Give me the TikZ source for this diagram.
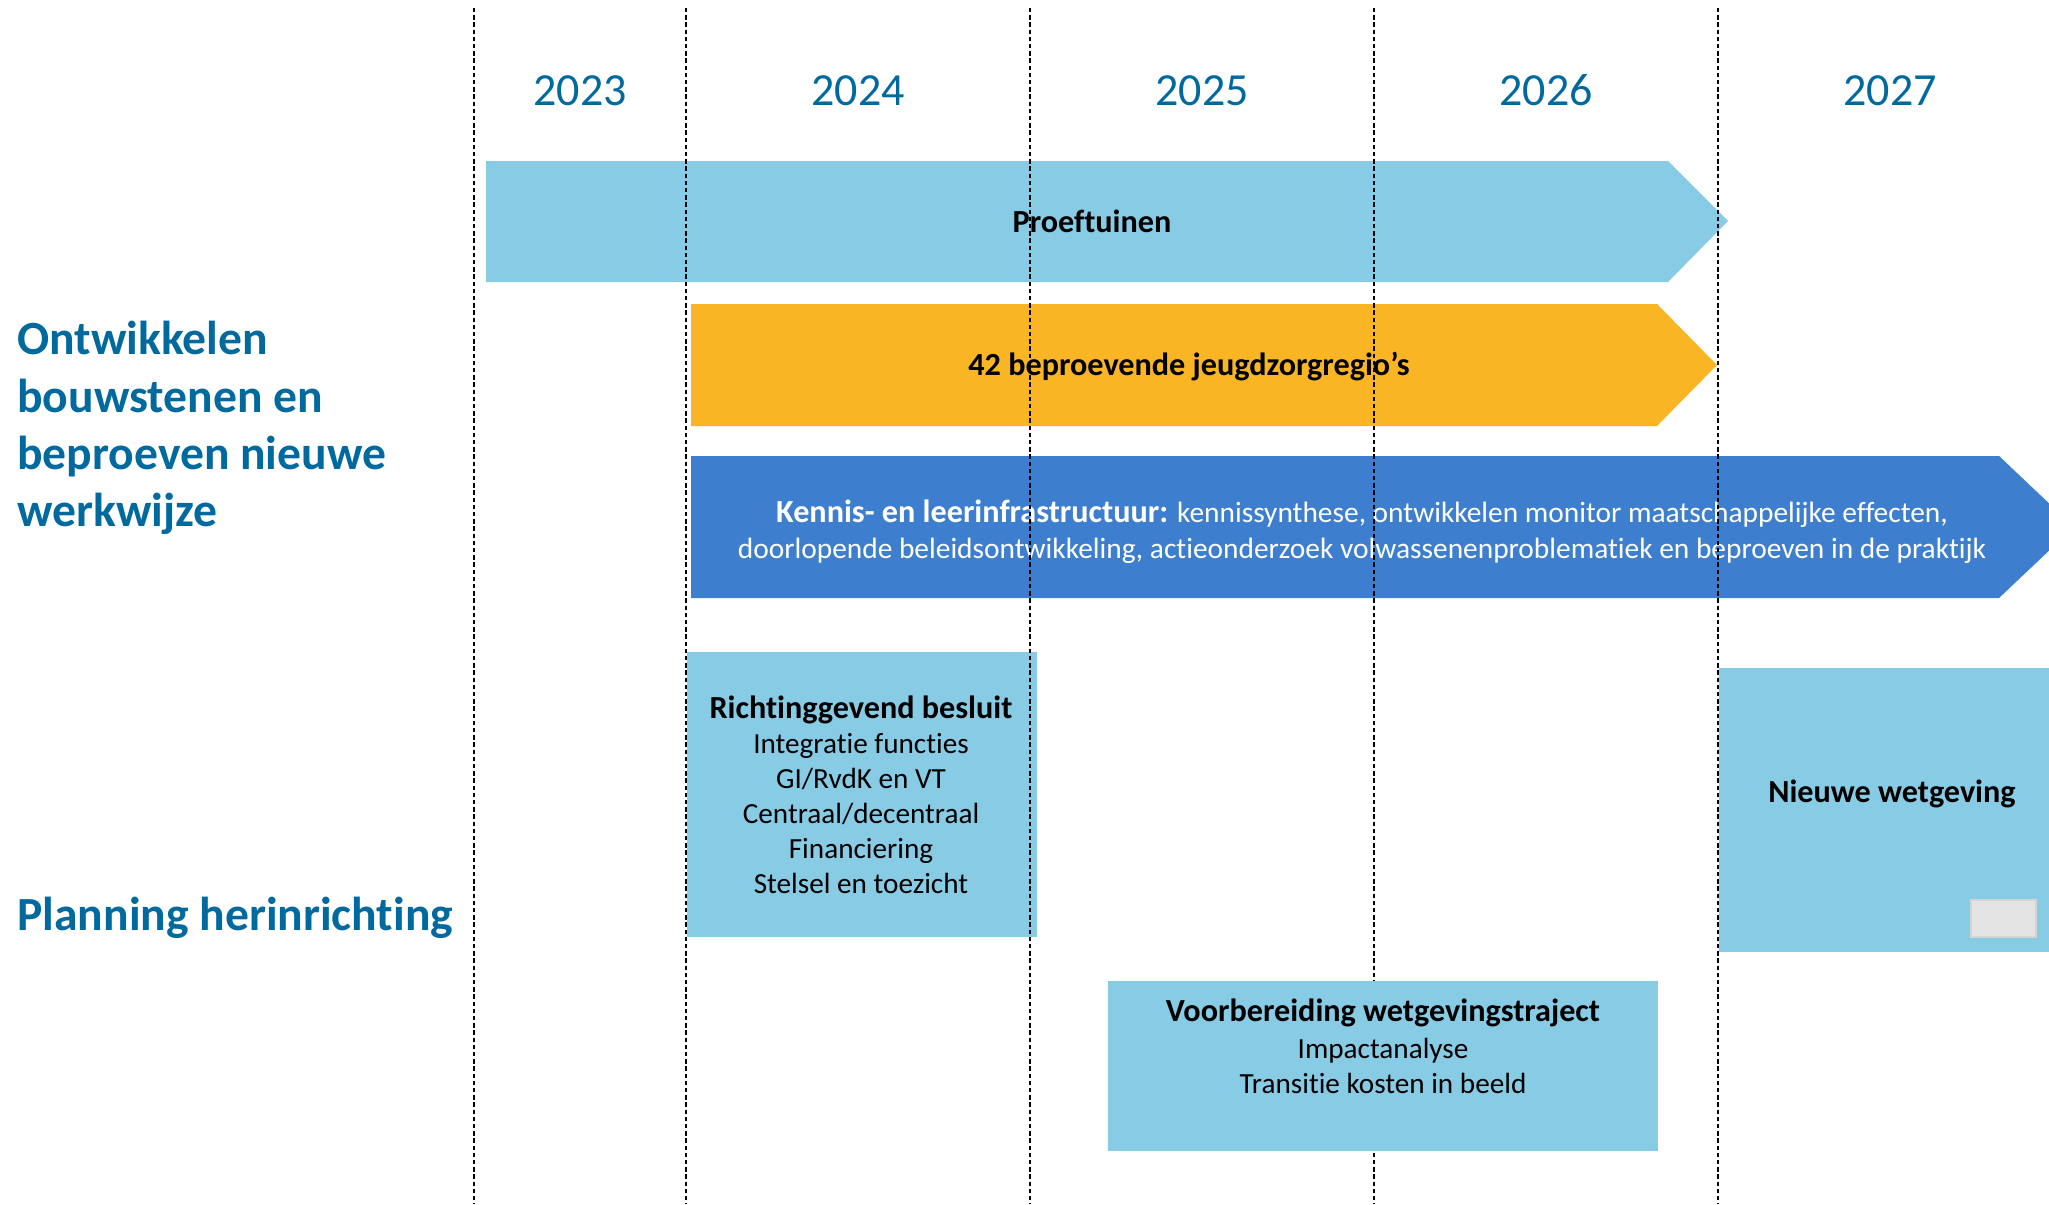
\documentclass[tikz,border=0pt]{standalone}
\usepackage{fontspec}
\setmainfont{Carlito}[Ligatures=NoCommon]
\definecolor{yearblue}{RGB}{0,105,157}
\definecolor{lightblue}{RGB}{136,203,229}
\definecolor{barorange}{RGB}{249,181,35}
\definecolor{bardark}{RGB}{61,127,206}
\definecolor{smallgray}{RGB}{228,228,228}
\definecolor{smallgrayline}{RGB}{212,212,212}
\tikzset{
  yearlbl/.style={font=\fontsize{23}{27}\selectfont, text=yearblue, inner sep=0pt},
  sidelbl/.style={font=\fontsize{23.8}{28.6}\selectfont\bfseries, text=yearblue, align=left, inner sep=0pt},
  bartxt/.style={font=\fontsize{16.1}{18}\selectfont\bfseries, inner sep=0pt},
  kentxt/.style={font=\fontsize{14.7}{18}\selectfont, text=white, align=center, inner sep=0pt},
  boxtxt/.style={font=\fontsize{14.6}{17.5}\selectfont, align=center, inner sep=0pt},
  yearline/.style={draw=black, line width=0.9pt, dash pattern=on 2.2pt off 1.4pt},
  panel/.style={fill=lightblue},
}
\newcommand{\boxhead}[1]{{\fontsize{16.1}{17.5}\selectfont\bfseries #1}}
\begin{document}
\begin{tikzpicture}[x=0.5pt,y=-0.5pt]
\useasboundingbox (0,0) rectangle (2049,1204);
\begin{scope}
\clip (0,0) rectangle (2049,1204);
% bars
\fill[lightblue] (486,161) -- (1668,161) -- (1728,221) -- (1668,282) -- (486,282) -- cycle;
\fill[barorange] (691,304) -- (1657,304) -- (1717,365) -- (1657,426) -- (691,426) -- cycle;
\fill[bardark] (691,456) -- (1999,456) -- (2074,527) -- (1999,598) -- (691,598) -- cycle;
% panels
\fill[panel] (687,652) rectangle (1037,937);
\fill[panel] (1719,668) rectangle (2049,952);
\filldraw[fill=smallgray, draw=smallgrayline, line width=0.6pt] (1971,900) rectangle (2036,937);
\end{scope}
% texts on bars and panels
\node[bartxt, anchor=base] (proef) at (1092,232) {Proeftuinen};
\node[bartxt, anchor=base] (regio) at (1189,375) {42 beproevende jeugdzorgregio’s};
\node[kentxt, anchor=center] (kennis) at (1362,532) {{\fontsize{16.1}{18}\selectfont\bfseries Kennis- en leerinfrastructuur:} kennissynthese, ontwikkelen monitor maatschappelijke effecten,\\doorlopende beleidsontwikkeling, actieonderzoek volwassenenproblematiek en beproeven in de praktijk};
\node[boxtxt, anchor=center] (richting) at (861,795) {\boxhead{Richtinggevend besluit}\\Integratie functies\\GI/RvdK en VT\\Centraal/decentraal\\Financiering\\Stelsel en toezicht};
\node[bartxt, anchor=base] (nieuw) at (1892,802) {Nieuwe wetgeving};
% years
\node[yearlbl, anchor=base] (y23) at (580,105) {2023};
\node[yearlbl, anchor=base] (y24) at (858,105) {2024};
\node[yearlbl, anchor=base] (y25) at (1202,105) {2025};
\node[yearlbl, anchor=base] (y26) at (1546,105) {2026};
\node[yearlbl, anchor=base] (y27) at (1890,105) {2027};
% side labels
\node[sidelbl, anchor=west] (ontw) at (17,428) {Ontwikkelen\\bouwstenen en\\beproeven nieuwe\\werkwijze};
\node[sidelbl, anchor=base west] (plan) at (17,930) {Planning herinrichting};
% year lines
\foreach \xx/\nm in {474/l1,686/l2,1030/l3,1374/l4,1718/l5}{
  \coordinate (\nm top) at (\xx,8);
  \coordinate (\nm bot) at (\xx,1204);
  \draw[yearline] (\nm top) -- (\nm bot);
}
% top panel
\fill[panel] (1108,981) rectangle (1658,1151);
\node[boxtxt, anchor=center] (voorb) at (1383,1046) {\boxhead{Voorbereiding wetgevingstraject}\\[0.8pt]Impactanalyse\\Transitie kosten in beeld};
\end{tikzpicture}
\end{document}
